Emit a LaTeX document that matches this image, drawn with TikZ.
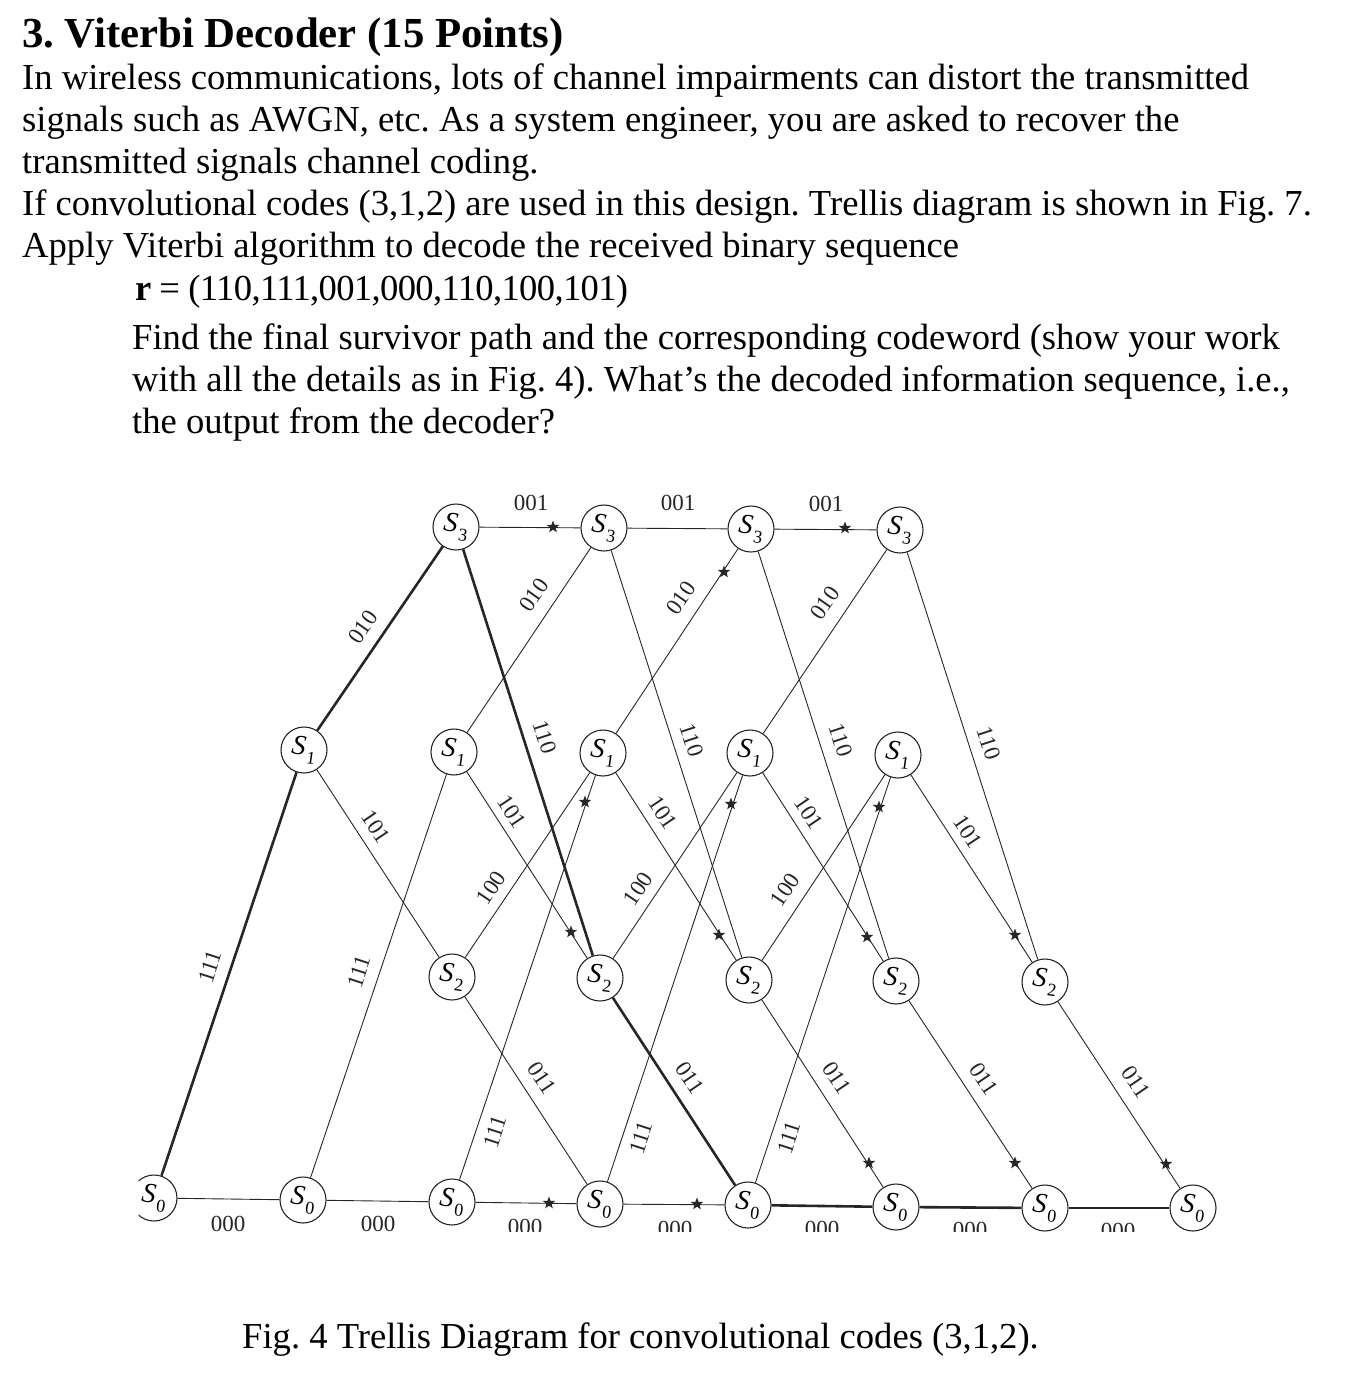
\documentclass[tikz,border=0pt]{standalone}
\usepackage{fontspec}
\setmainfont{Liberation Serif}
\usetikzlibrary{shapes.geometric}
\newcommand{\stlab}[1]{\rotatebox{-8}{\textit{S}\kern2pt\raisebox{-7pt}{\fontsize{18}{18}\selectfont #1}}}
\tikzset{
  txt/.style={anchor=base west,inner sep=0pt,font=\frenchspacing\fontsize{36.6}{42}\selectfont,text=black},
  ttl/.style={anchor=base west,inner sep=0pt,font=\frenchspacing\bfseries\fontsize{42.8}{42}\selectfont,text=black},
  stt/.style={circle,draw=black!85,line width=1.1pt,fill=white,minimum size=46pt,inner sep=0pt,font=\fontsize{28}{28}\selectfont},
  edg/.style={draw=black!85,line width=0.9pt},
  thk/.style={draw=black!85,line width=2.6pt},
  lab/.style={inner sep=0pt,font=\fontsize{23}{24}\selectfont,text=black!85},
  sstar/.style={shape=star,star points=5,star point ratio=2.4,fill=black!85,inner sep=0pt,minimum size=13pt}
}
\begin{document}
\begin{tikzpicture}[x=1pt,y=-1pt]
\useasboundingbox (0,0) rectangle (1348,1374);
\node[ttl] (title) at (22,47) {3. Viterbi Decoder (15 Points)};
\node[txt] (l1) at (22,89) {In wireless communications, lots of channel impairments can distort the transmitted};
\node[txt] (l2) at (22,131) {signals such as AWGN, etc. As a system engineer, you are asked to recover the};
\node[txt] (l3) at (22,173) {transmitted signals channel coding.};
\node[txt] (l4) at (22,215) {If convolutional codes (3,1,2) are used in this design. Trellis diagram is shown in Fig. 7.};
\node[txt] (l5) at (22,257) {Apply Viterbi algorithm to decode the received binary sequence};
\node[txt] (l6) at (135,300) {\addfontfeature{LetterSpace=-1.8}\textbf{r} = (110,111,001,000,110,100,101)};
\node[txt] (l7) at (132,349) {Find the final survivor path and the corresponding codeword (show your work};
\node[txt] (l8) at (132,391) {with all the details as in Fig. 4). What’s the decoded information sequence, i.e.,};
\node[txt] (l9) at (132,433) {the output from the decoder?};
\node[txt] (cap) at (242,1348) {Fig. 4 Trellis Diagram for convolutional codes (3,1,2).};

\begin{scope}
\clip (138.5,480) rectangle (1348,1231);
% states
\foreach \n/\x/\y in {0/154/1198,1/303/1200,2/452/1202,3/600/1204,4/748/1205,5/896/1207,6/1045/1208,7/1193/1208}
  \node[stt] (a\n) at (\x,\y) {\stlab{0}};
\foreach \n/\x/\y in {1/304/750,2/454/752,3/603/753,4/750/753,5/898/755}
  \node[stt] (b\n) at (\x,\y) {\stlab{1}};
\foreach \n/\x/\y in {2/452/977,3/600/978,4/749/980,5/896/981,6/1045/982}
  \node[stt] (c\n) at (\x,\y) {\stlab{2}};
\foreach \n/\x/\y in {2/456/527,3/604/528,4/751/529,5/900/530}
  \node[stt] (d\n) at (\x,\y) {\stlab{3}};
% thin branches
\foreach \p/\q in {a0/a1,a1/a2,a2/a3,a3/a4,
    a1/b2,a2/b3,a3/b4,a4/b5,
    b2/d3,b3/d4,b4/d5,
    b1/c2,b2/c3,b3/c4,b4/c5,b5/c6,
    d2/d3,d3/d4,d4/d5,
    d3/c4,d4/c5,d5/c6,
    c2/b3,c3/b4,c4/b5,
    c2/a3,c4/a5,c5/a6,c6/a7}
  \draw[edg] (\p) -- (\q);
% survivor path
\foreach \p/\q in {a0/b1,b1/d2,d2/c3,c3/a4,a4/a5,a5/a6,a6/a7}
  \draw[thk] (\p) -- (\q);
% branch labels
\foreach \x/\y/\t/\r [count=\i] in {
  531/503/001/0,678/503/001/0,826/504/001/0,
  363/627/010/55,534/595/010/55,681/598/010/55,825/603/010/55,
  545/737/110/-72,692/740/110/-72,841/740/110/-72,989/743/110/-72,
  376/827/101/-56,512/812/101/-56,663/813/101/-56,809/813/101/-56,968/832/101/-56,
  491/888/100/56,638/889/100/56,785/890/100/56,
  210/967/111/72,359/972/111/72,495/1132/111/72,641/1138/111/72,789/1138/111/72,
  542/1078/011/-56,690/1078/011/-56,837/1078/011/-56,984/1079/011/-56,1136/1082/011/-56,
  228/1224/000/0,378/1224/000/0,525/1227/000/0,675/1229/000/0,822/1229/000/0,970/1230/000/0,1118/1231/000/0}
  \node[lab,rotate=\r] (t\i) at (\x,\y) {\t};
% decision marks
\foreach \x/\y [count=\i] in {
  553/527,845/528,724/572,585/802,731/804,879/807,
  571/932,719/935,867/937,1015/935,
  869/1163,1015/1163,1166/1164,549/1203,697/1204}
  \node[sstar] (m\i) at (\x,\y) {};
\end{scope}
\end{tikzpicture}
\end{document}
